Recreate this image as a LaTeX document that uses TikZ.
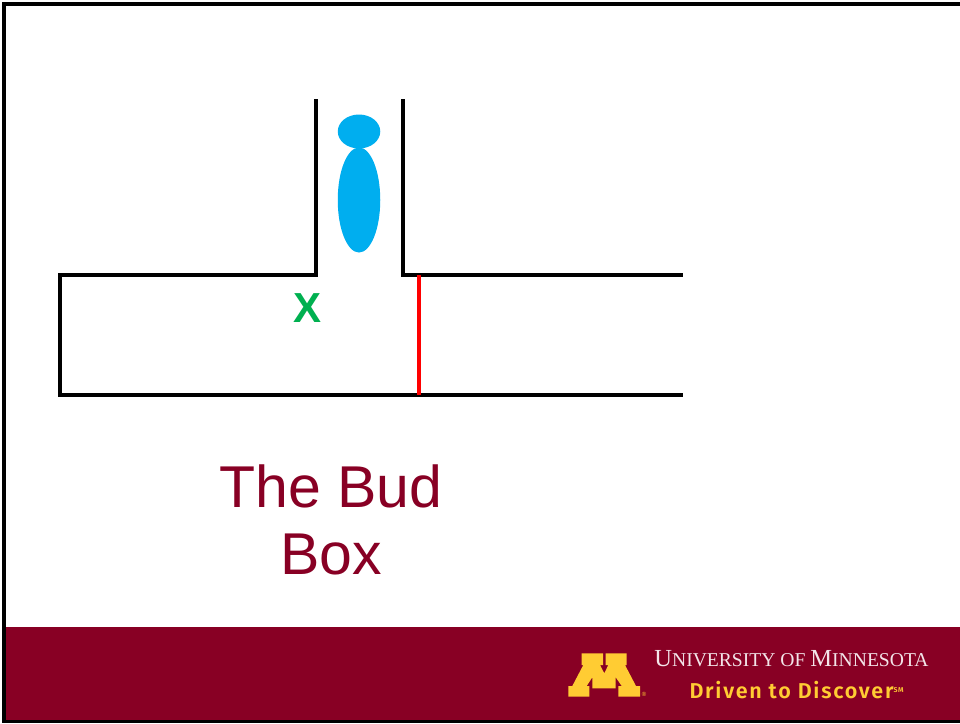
\documentclass[tikz,border=0pt]{standalone}
\usepackage{fontspec}
\setmainfont{Liberation Sans}
\newfontfamily\uofmfont{Liberation Serif}
\newfontfamily\drivenfont[LetterSpace=8]{Fira Sans SemiBold}
\usetikzlibrary{shapes.geometric}
\usepackage{xcolor}
\definecolor{maroon}{HTML}{880024}
\definecolor{gold}{HTML}{FFCC33}
\definecolor{budblue}{HTML}{00AEEF}
\definecolor{xgreen}{HTML}{00B050}
\begin{document}
\begin{tikzpicture}[x=1pt, y=-1pt,
  wall/.style={line width=4pt, line join=miter},
  bud/.style={ellipse, fill=budblue, inner sep=0pt},
  lbl/.style={inner sep=0pt, align=center}]
\useasboundingbox (0,0) rectangle (960,723);
% banner and frame
\fill[white] (0,0) rectangle (960,723);
\fill[maroon] (4,627) rectangle (960,720);
\draw[line width=3.5pt] (960,4) -- (4,4) -- (4,721.5) -- (960,721.5);
% corners of the channel
\coordinate (tl) at (315.5,99);
\coordinate (cl) at (315.5,275);
\coordinate (ol) at (59.5,275);
\coordinate (bl) at (59.5,395);
\coordinate (br) at (683,395);
\coordinate (tr) at (403,99);
\coordinate (cr) at (403,275);
\coordinate (or) at (683,275);
\coordinate (rt) at (419,275);
\coordinate (rb) at (419,395);
\draw[wall] (tl) -- (cl) -- (ol) -- (bl) -- (br);
\draw[wall] (tr) -- (cr) -- (or);
\draw[line width=3.5pt, red] (rt) -- (rb);
% bud
\node[bud, minimum width=42.5pt, minimum height=105pt] (body) at (359,200) {};
\node[bud, minimum width=42.5pt, minimum height=34pt] (head) at (359,131.5) {};
\node[lbl, text=xgreen, font=\fontsize{42}{42}\selectfont\bfseries] (xmark) at (307.5,308) {X};
\node[lbl, text=maroon, font=\fontsize{59}{67}\selectfont] (title) at (331,519.5) {The Bud\\Box};
% logo
\fill[gold] (581.7,653.3) -- (603,653.3) -- (603,665) -- (600,665) -- (604.3,673.3)
  -- (608.3,665) -- (605.5,665) -- (605.5,653.3) -- (626.7,653.3) -- (626.7,665)
  -- (625,665) -- (636,686) -- (640,686) -- (640,696.7) -- (618.3,696.7) -- (618.3,686)
  -- (621.7,686) -- (615.7,677.3) -- (615.7,688.3) -- (592.3,688.3) -- (592.3,677.3)
  -- (586.7,686) -- (589.3,686) -- (589.3,696.7) -- (568.3,696.7) -- (568.3,686)
  -- (572.3,686) -- (583.3,665) -- (581.7,665) -- cycle;
\node[lbl, text=gold, font=\fontsize{6}{6}\selectfont] (regmark) at (644,694.3) {®};
\node[lbl, text=white!90!maroon, font=\uofmfont\fontsize{24.5}{24}\selectfont] (uni) at (791.5,659)
  {U\fontsize{19.6}{24}\selectfont NIVERSITY OF \fontsize{24.5}{24}\selectfont M\fontsize{19.6}{24}\selectfont INNESOTA};
\node[lbl, text=gold, font=\drivenfont\fontsize{21.5}{24}\selectfont] (driven) at (796.5,690)
  {Driven to Discover\raisebox{6pt}{\fontsize{7}{7}\selectfont SM}};
\end{tikzpicture}
\end{document}
